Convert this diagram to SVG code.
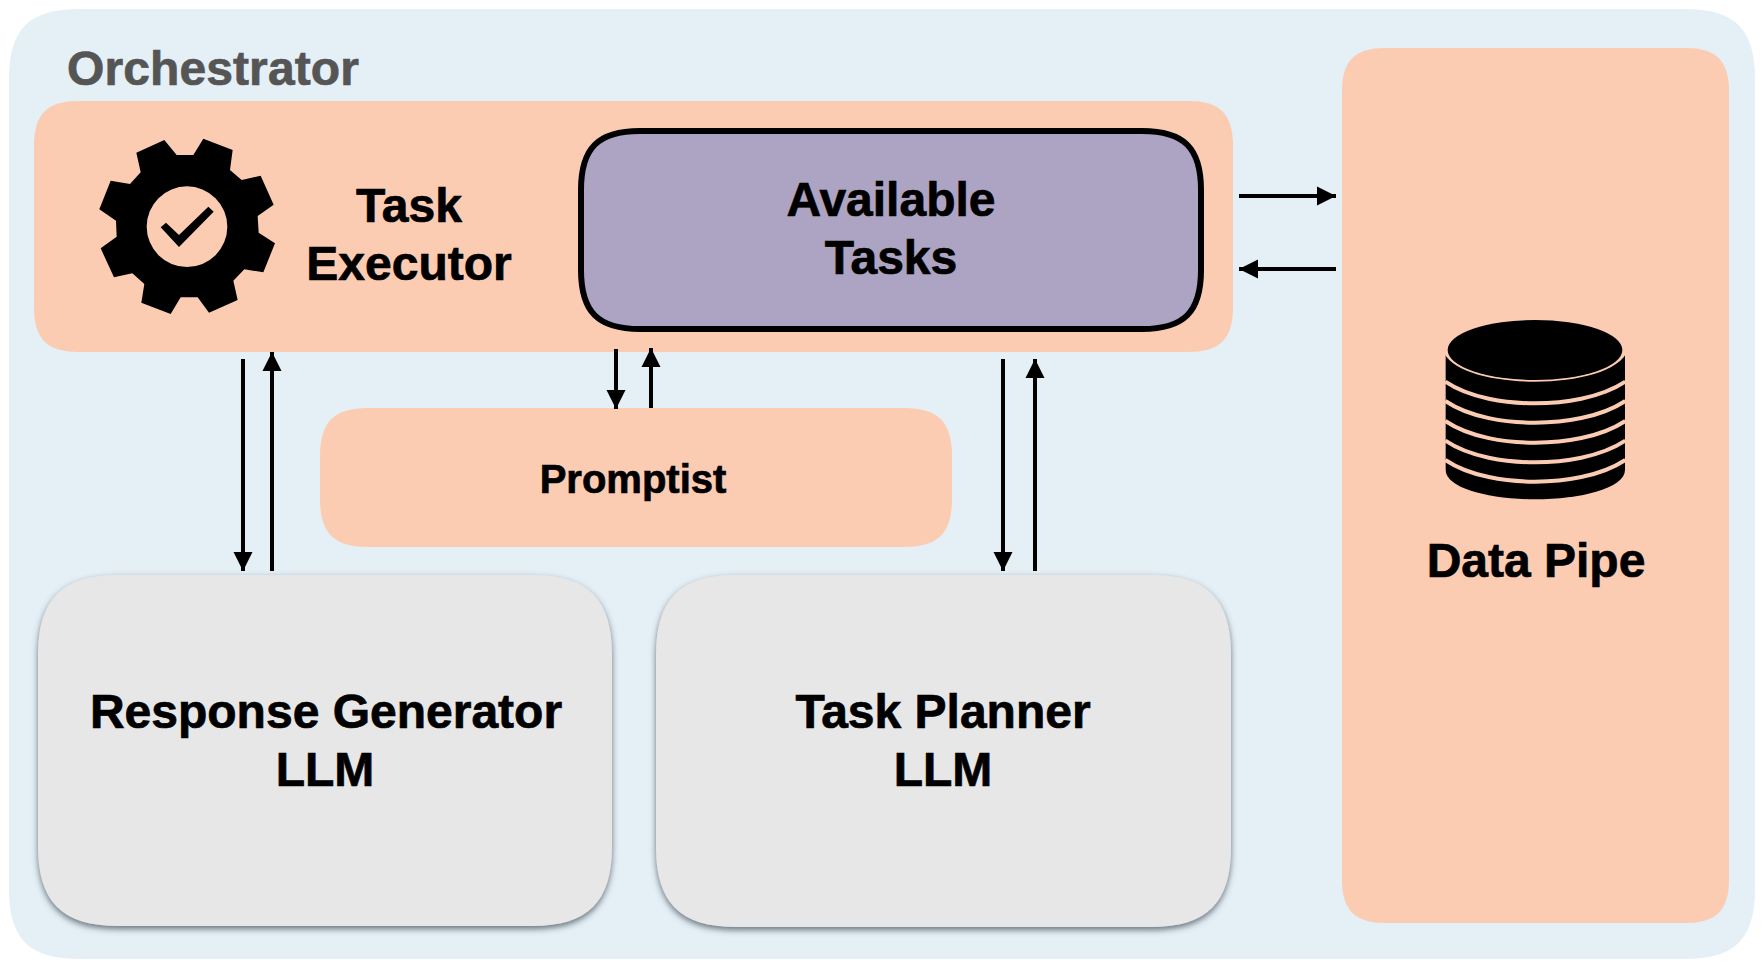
<svg xmlns="http://www.w3.org/2000/svg" width="1764" height="968" viewBox="0 0 1764 968">
<style>
text{font-family:"Liberation Sans",Arial,sans-serif;font-weight:700;font-size:48px;fill:#000;stroke:#000;stroke-width:.7;text-anchor:middle}
.peach{fill:#FBCBB2}
.conn{stroke:#000;stroke-width:4;fill:none}
.gap{fill:none;stroke:#FBCBB2;stroke-width:12}
</style>
<defs>
<marker id="ah" markerUnits="userSpaceOnUse" markerWidth="19" markerHeight="20" refX="19" refY="10" orient="auto"><path d="M0 0.5L19 10L0 19.5Z" fill="#000"/></marker>
<filter id="sh" x="-5%" y="-5%" width="110%" height="110%"><feDropShadow dx="0" dy="3" stdDeviation="3" flood-color="#4a5660" flood-opacity=".8"/></filter>
<path id="band" d="M136 -65C210 -15 320 0 405 0S600 -15 676 -65"/>
</defs>
<rect width="1764" height="968" fill="#fff"/>
<g id="orchestrator">
<path d="M79 9H1685C1735 9 1755 29 1755 79V889C1755 939 1735 959 1685 959H79C29 959 9 939 9 889V79C9 29 29 9 79 9Z" fill="#E4EFF6"/>
<text x="67" y="85" style="text-anchor:start;fill:#555;stroke:#555;letter-spacing:.1px">Orchestrator</text>
</g>
<g id="task-executor">
<path class="peach" d="M79 101H1188C1220 101 1233 114 1233 146V307C1233 339 1220 352 1188 352H79C47 352 34 339 34 307V146C34 114 47 101 79 101Z"/>
<g transform="translate(60 110) scale(.33333)">
<path fill-rule="evenodd" d="M313 90L350 135L400 135L430 86L518 120L510 180L545 210L602 197L641 284L593 318L596 368L645 400L610 487L553 478L520 512L533 570L447 608L413 562L362 562L332 612L244 578L253 522L217 490L162 502L122 415L170 380L168 332L118 298L152 212L210 222L242 187L229 128ZM381 229A121 121 0 1 0 381.1 471A121 121 0 1 0 381 229Z"/>
<path d="M302 352L318 338L357 375L445 290L461 305L357 411Z"/>
</g>
<text x="409" y="222">Task</text>
<text x="409" y="280">Executor</text>
</g>
<g id="available-tasks">
<path d="M640 131H1142C1184 131 1201 148 1201 190V270C1201 312 1184 329 1142 329H640C598 329 581 312 581 270V190C581 148 598 131 640 131Z" fill="#ADA4C3" stroke="#000" stroke-width="6"/>
<text x="891" y="216">Available</text>
<text x="891" y="274">Tasks</text>
</g>
<g id="promptist">
<path class="peach" d="M368 408H904C938 408 952 422 952 456V499C952 533 938 547 904 547H368C334 547 320 533 320 499V456C320 422 334 408 368 408Z"/>
<text x="633" y="493" style="font-size:40px">Promptist</text>
</g>
<g id="data-pipe">
<path class="peach" d="M1385 48H1686C1716 48 1729 61 1729 91V880C1729 910 1716 923 1686 923H1385C1355 923 1342 910 1342 880V91C1342 61 1355 48 1385 48Z"/>
<g transform="translate(1400 300) scale(.33333)">
<path d="M137 165V510C137 565 270 598 405 598S675 565 675 510V165Z"/>
<path d="M128 150C150 215 280 245 405 245S660 215 684 150V100H128Z" class="peach"/>
<ellipse cx="405" cy="150" rx="262" ry="90"/>
<use href="#band" y="310" class="gap"/>
<use href="#band" y="368" class="gap"/>
<use href="#band" y="428" class="gap"/>
<use href="#band" y="487" class="gap"/>
<use href="#band" y="545" class="gap"/>
</g>
<text x="1536" y="577">Data Pipe</text>
</g>
<g id="response-generator">
<path d="M118 575H532C588 575 612 599 612 655V846C612 902 588 926 532 926H118C62 926 38 902 38 846V655C38 599 62 575 118 575Z" fill="#E7E7E7" filter="url(#sh)"/>
<text x="326" y="728">Response Generator</text>
<text x="325" y="786">LLM</text>
</g>
<g id="task-planner">
<path d="M736 575H1151C1207 575 1231 599 1231 655V847C1231 903 1207 927 1151 927H736C680 927 656 903 656 847V655C656 599 680 575 736 575Z" fill="#E7E7E7" filter="url(#sh)"/>
<text x="943" y="728">Task Planner</text>
<text x="943" y="786">LLM</text>
</g>
<g id="connectors">
<path class="conn" marker-end="url(#ah)" d="M1239 196H1336"/>
<path class="conn" marker-end="url(#ah)" d="M1336 269H1239"/>
<path class="conn" marker-end="url(#ah)" d="M243 359V571"/>
<path class="conn" marker-end="url(#ah)" d="M272 571V352"/>
<path class="conn" marker-end="url(#ah)" d="M616 349V409"/>
<path class="conn" marker-end="url(#ah)" d="M651 408V348"/>
<path class="conn" marker-end="url(#ah)" d="M1003 359V571"/>
<path class="conn" marker-end="url(#ah)" d="M1035 571V359"/>
</g>
</svg>
